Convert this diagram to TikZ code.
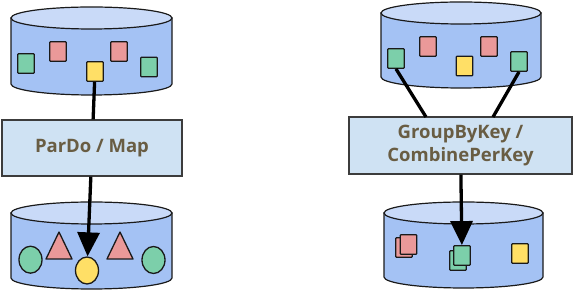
\documentclass[tikz,border=0pt]{standalone}
\usepackage{fontspec}
\setmainfont{Open Sans}
\usetikzlibrary{arrows.meta,shapes.geometric}
\definecolor{cylbody}{HTML}{A4C2F4}
\definecolor{cyltop}{HTML}{C9DAF8}
\definecolor{boxfill}{HTML}{CFE2F3}
\definecolor{pinkc}{HTML}{EA9999}
\definecolor{greenc}{HTML}{7CCFAA}
\definecolor{yellowc}{HTML}{FFDF66}
\definecolor{txtc}{HTML}{695D43}
\definecolor{edgec}{HTML}{1A1A1A}
\tikzset{
  cylside/.style={fill=cylbody,draw=edgec,line width=1.2pt},
  cyllid/.style={fill=cyltop,draw=edgec,line width=1.2pt},
  sq/.style={rectangle,draw=edgec,line width=1.3pt,minimum width=16.5pt,minimum height=19.5pt,inner sep=0pt,rounded corners=0.8pt},
  pinksq/.style={sq,fill=pinkc},
  greensq/.style={sq,fill=greenc},
  yellowsq/.style={sq,fill=yellowc},
  blob/.style={ellipse,draw=edgec,line width=1.3pt,minimum width=23pt,minimum height=27pt,inner sep=0pt},
  tri/.style={fill=pinkc,draw=edgec,line width=1.3pt,line join=round},
  opbox/.style={rectangle,draw=edgec!85,line width=1.2pt,fill=boxfill,inner sep=0pt,font=\bfseries\fontsize{18.5}{23}\selectfont,text=txtc,align=center},
  link/.style={line width=3.3pt,draw=black},
  flow/.style={line width=3.3pt,draw=black,-{Triangle[width=22pt,length=24pt]}},
}
\newcommand\drawcyl[5]{% left right cx Ytop Ybot
  \filldraw[cylside] (#1,#4) -- (#1,#5) arc[start angle=180,end angle=360,x radius={(#2-#1)/2*1pt},y radius=11pt] -- (#2,#4) -- cycle;
  \filldraw[cyllid] (#3,#4) ellipse [x radius={(#2-#1)/2*1pt},y radius=11pt];
}
\begin{document}
\begin{tikzpicture}[x=1pt,y=1pt]
\useasboundingbox (0,0) rectangle (573,291);
% cylinders
\drawcyl{11}{172}{91.5}{273}{207}
\drawcyl{381}{541}{461}{278}{214}
\drawcyl{11}{172}{91.5}{78}{13}
\drawcyl{384}{543}{463.5}{78}{14}
% left top elements
\node[greensq] (lg1) at (26,227.5) {};
\node[pinksq] (lp1) at (58,239.5) {};
\node[yellowsq] (ly) at (95,219.5) {};
\node[pinksq] (lp2) at (119,239.5) {};
\node[greensq] (lg2) at (149,224) {};
% right top elements
\node[greensq] (rg1) at (396,232.5) {};
\node[pinksq] (rp1) at (428,244.5) {};
\node[yellowsq] (ry) at (464.5,225) {};
\node[pinksq] (rp2) at (489,244.5) {};
\node[greensq] (rg2) at (519,229.5) {};
% boxes
\node[opbox,minimum width=180pt,minimum height=56pt] (pardo) at (92,143) {ParDo / Map};
\node[opbox,minimum width=223pt,minimum height=57pt] (group) at (460.5,145.5) {GroupByKey /\\CombinePerKey};
% left bottom elements
\node[blob,fill=greenc] (lc1) at (30.5,31.3) {};
\draw[tri] (46,32) -- (72,32) -- (59,59) -- cycle;
\node[blob,fill=yellowc] (lyc) at (87,20.5) {};
\draw[tri] (107,32) -- (133,32) -- (120,59) -- cycle;
\node[blob,fill=greenc] (lc2) at (153.5,31) {};
% right bottom elements
\node[pinksq] (bpb) at (404,43.5) {};
\node[pinksq] (bpf) at (408.5,46.5) {};
\node[greensq] (bgb) at (458,30.5) {};
\node[greensq] (bgf) at (462,35.5) {};
\node[yellowsq] (by) at (520,37.5) {};
% connectors
\coordinate (gin1) at (426,174);
\coordinate (gin2) at (493,174);
\draw[link] (ly) -- (pardo);
\draw[link] (rg1.south) -- (gin1);
\draw[link] (rg2.south) -- (gin2);
\draw[flow] (pardo) -- (lyc);
\draw[flow] (group) -- (bgf);
\end{tikzpicture}
\end{document}
